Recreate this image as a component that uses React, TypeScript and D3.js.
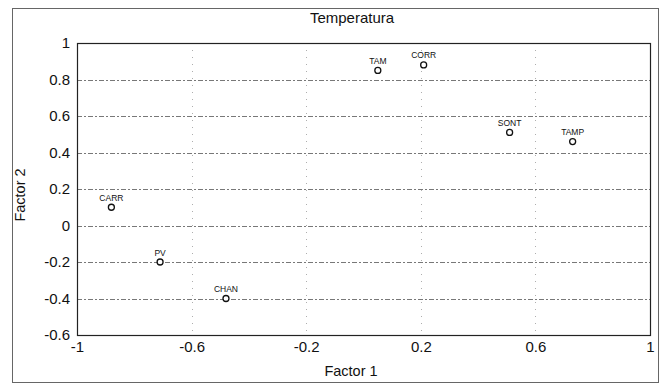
import { useEffect, useRef } from "react";
import * as d3 from "d3";

const pointLabels = ["CARR", "PV", "CHAN", "TAM", "CORR", "SONT", "TAMP"];
const factor1 = [-0.88, -0.71, -0.48, 0.05, 0.21, 0.51, 0.73];
const factor2 = [0.1, -0.2, -0.4, 0.85, 0.88, 0.51, 0.46];
const xTickValues = [-1, -0.6, -0.2, 0.2, 0.6, 1];
const yTickValues = [1, 0.8, 0.6, 0.4, 0.2, 0, -0.2, -0.4, -0.6];
const chartTitle = "Temperatura";
const xTitle = "Factor 1";
const yTitle = "Factor 2";

function App() {
  const ref = useRef<SVGSVGElement | null>(null);

  useEffect(() => {
    const width = 669;
    const height = 384;
    const margin = { top: 43, right: 19, bottom: 49, left: 77 };
    const innerW = width - margin.left - margin.right;
    const innerH = height - margin.top - margin.bottom;
    const font = "'Liberation Sans', Arial, sans-serif";

    const root = d3.select(ref.current);
    root.selectAll("*").remove();

    root
      .append("rect")
      .attr("width", width)
      .attr("height", height)
      .attr("fill", "#fff");

    // outer frame
    root
      .append("rect")
      .attr("x", 12.5)
      .attr("y", 8.5)
      .attr("width", 646)
      .attr("height", 374)
      .attr("fill", "none")
      .attr("stroke", "#666")
      .attr("stroke-width", 1);

    const svg = root
      .append("g")
      .attr("transform", `translate(${margin.left}, ${margin.top})`);

    const x = d3.scaleLinear().domain([-1, 1]).range([0, innerW]);
    const y = d3.scaleLinear().domain([-0.6, 1]).range([innerH, 0]);

    // grid
    svg
      .append("g")
      .selectAll("line")
      .data(yTickValues.filter((d) => d > -0.6 && d < 1))
      .join("line")
      .attr("x1", 0)
      .attr("x2", innerW)
      .attr("y1", (d) => Math.round(y(d)) + 0.5)
      .attr("y2", (d) => Math.round(y(d)) + 0.5)
      .attr("stroke", "#555")
      .attr("stroke-width", 0.8)
      .attr("stroke-dasharray", "5,2,2,2");

    svg
      .append("g")
      .selectAll("line")
      .data(xTickValues.filter((d) => d > -1 && d < 1))
      .join("line")
      .attr("x1", (d) => Math.round(x(d)) + 0.5)
      .attr("x2", (d) => Math.round(x(d)) + 0.5)
      .attr("y1", 0)
      .attr("y2", innerH)
      .attr("stroke", "#999")
      .attr("stroke-width", 0.8)
      .attr("stroke-dasharray", "1,6");

    // plot frame
    svg
      .append("rect")
      .attr("x", 0.5)
      .attr("y", 0.5)
      .attr("width", innerW)
      .attr("height", innerH)
      .attr("fill", "none")
      .attr("stroke", "#222")
      .attr("stroke-width", 1.2);

    const fmt = (d: number) => String(d);

    const xAxis = svg
      .append("g")
      .attr("transform", `translate(0, ${innerH})`)
      .call(
        d3
          .axisBottom(x)
          .tickValues(xTickValues)
          .tickFormat((d) => fmt(d as number))
          .tickSize(0)
          .tickPadding(6)
      );
    xAxis.select(".domain").remove();
    xAxis
      .selectAll("text")
      .attr("font-family", font)
      .attr("font-size", 15)
      .attr("fill", "#111");

    const yAxis = svg
      .append("g")
      .call(
        d3
          .axisLeft(y)
          .tickValues(yTickValues)
          .tickFormat((d) => fmt(d as number))
          .tickSize(0)
          .tickPadding(7)
      );
    yAxis.select(".domain").remove();
    yAxis
      .selectAll("text")
      .attr("font-family", font)
      .attr("font-size", 15)
      .attr("fill", "#111");

    // points
    const pts = pointLabels.map((label, i) => ({
      label,
      fx: factor1[i],
      fy: factor2[i],
    }));

    svg
      .append("g")
      .selectAll("circle")
      .data(pts)
      .join("circle")
      .attr("cx", (d) => x(d.fx))
      .attr("cy", (d) => y(d.fy))
      .attr("r", 3)
      .attr("fill", "#fff")
      .attr("stroke", "#111")
      .attr("stroke-width", 1.3);

    svg
      .append("g")
      .selectAll("text")
      .data(pts)
      .join("text")
      .attr("x", (d) => x(d.fx))
      .attr("y", (d) => y(d.fy) - 6.5)
      .attr("text-anchor", "middle")
      .attr("font-family", font)
      .attr("font-size", 8.5)
      .attr("fill", "#111")
      .text((d) => d.label);

    // titles
    root
      .append("text")
      .attr("x", 352)
      .attr("y", 23)
      .attr("text-anchor", "middle")
      .attr("font-family", font)
      .attr("font-size", 15)
      .attr("fill", "#111")
      .text(chartTitle);

    root
      .append("text")
      .attr("x", 351)
      .attr("y", 376)
      .attr("text-anchor", "middle")
      .attr("font-family", font)
      .attr("font-size", 14.5)
      .attr("fill", "#111")
      .text(xTitle);

    root
      .append("text")
      .attr("transform", `translate(25, 195) rotate(-90)`)
      .attr("text-anchor", "middle")
      .attr("font-family", font)
      .attr("font-size", 14.5)
      .attr("fill", "#111")
      .text(yTitle);
  }, []);

  return (
    <svg
      ref={ref}
      width={669}
      height={384}
      style={{ position: "absolute", left: 0, top: 0 }}
    />
  );
}

export default App;
